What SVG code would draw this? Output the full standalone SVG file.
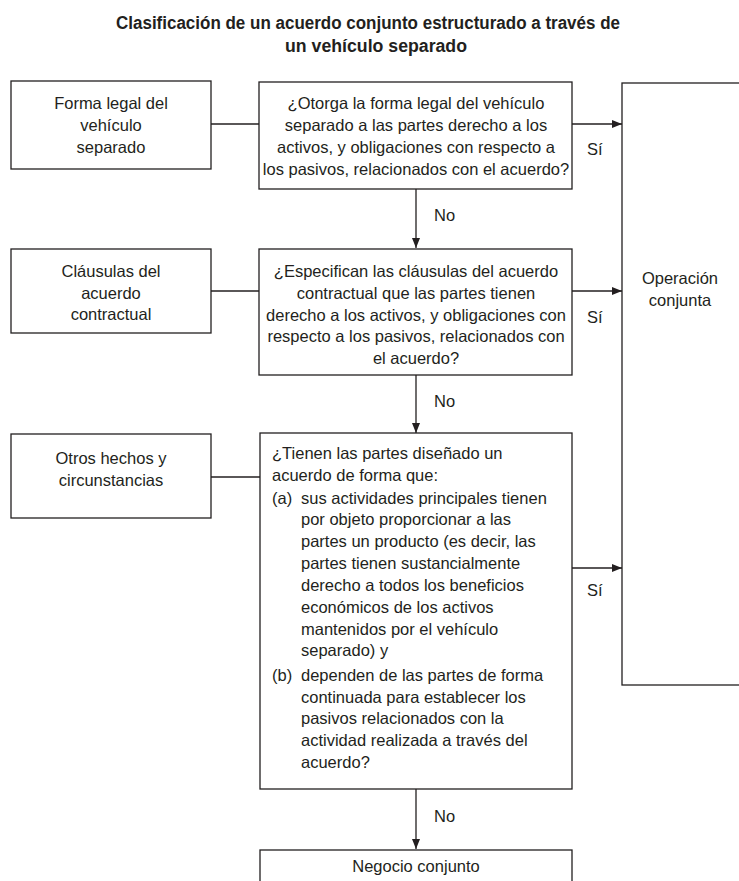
<svg xmlns="http://www.w3.org/2000/svg" width="739" height="881" viewBox="0 0 739 881">
<style>
text{font-family:"Liberation Sans",Arial,sans-serif;font-size:16.5px;fill:#231f20}
.t{font-weight:bold;font-size:18px}
.c{text-anchor:middle}
rect{fill:#fff;stroke:#231f20;stroke-width:1.3}
.ln{stroke:#231f20;stroke-width:1.3;fill:none}
</style>
<defs>
<marker id="ah" viewBox="0 0 10 8" refX="10" refY="4" markerWidth="10" markerHeight="8" markerUnits="userSpaceOnUse" orient="auto">
<path d="M0,0 L10,4 L0,8 Z" fill="#231f20"/>
</marker>
</defs>
<rect x="0" y="0" width="739" height="881" style="stroke:none"/>
<g id="title">
<text class="t" x="116" y="29" textLength="504" lengthAdjust="spacingAndGlyphs">Clasificación de un acuerdo conjunto estructurado a través de</text>
<text class="t" x="285" y="52" textLength="182" lengthAdjust="spacingAndGlyphs">un vehículo separado</text>
</g>
<g id="connectors">
<line class="ln" x1="211" y1="124" x2="259" y2="124"/>
<line class="ln" x1="211" y1="291" x2="259" y2="291"/>
<line class="ln" x1="211" y1="477" x2="260" y2="477"/>
<line class="ln" x1="572" y1="124" x2="622" y2="124" marker-end="url(#ah)"/>
<line class="ln" x1="572" y1="291" x2="622" y2="291" marker-end="url(#ah)"/>
<line class="ln" x1="572" y1="568" x2="622" y2="568" marker-end="url(#ah)"/>
<line class="ln" x1="416" y1="189" x2="416" y2="248" marker-end="url(#ah)"/>
<line class="ln" x1="416" y1="375" x2="416" y2="433" marker-end="url(#ah)"/>
<line class="ln" x1="416" y1="789" x2="416" y2="849" marker-end="url(#ah)"/>
<text x="587" y="155">Sí</text>
<text x="587" y="323">Sí</text>
<text x="587" y="596">Sí</text>
<text x="434" y="221">No</text>
<text x="434" y="407">No</text>
<text x="434" y="822">No</text>
</g>
<g id="n-forma">
<rect x="11" y="81" width="200" height="88"/>
<text class="c" x="111" y="109">Forma legal del</text>
<text class="c" x="111" y="131">vehículo</text>
<text class="c" x="111" y="153">separado</text>
</g>
<g id="n-q1">
<rect x="259" y="82" width="313" height="107"/>
<text class="c" x="416" y="109">¿Otorga la forma legal del vehículo</text>
<text class="c" x="416" y="131">separado a las partes derecho a los</text>
<text class="c" x="416" y="153">activos, y obligaciones con respecto a</text>
<text class="c" x="416" y="175">los pasivos, relacionados con el acuerdo?</text>
</g>
<g id="n-clausulas">
<rect x="11" y="249" width="200" height="84"/>
<text class="c" x="111" y="277">Cláusulas del</text>
<text class="c" x="111" y="299">acuerdo</text>
<text class="c" x="111" y="320">contractual</text>
</g>
<g id="n-q2">
<rect x="259" y="249" width="313" height="126"/>
<text class="c" x="416" y="277">¿Especifican las cláusulas del acuerdo</text>
<text class="c" x="416" y="299">contractual que las partes tienen</text>
<text class="c" x="416" y="321">derecho a los activos, y obligaciones con</text>
<text class="c" x="416" y="342">respecto a los pasivos, relacionados con</text>
<text class="c" x="416" y="364">el acuerdo?</text>
</g>
<g id="n-otros">
<rect x="11" y="434" width="200" height="84"/>
<text class="c" x="111" y="464">Otros hechos y</text>
<text class="c" x="111" y="486">circunstancias</text>
</g>
<g id="n-q3">
<rect x="260" y="433" width="312" height="356"/>
<text x="272" y="459">¿Tienen las partes diseñado un</text>
<text x="272" y="481">acuerdo de forma que:</text>
<text x="272" y="504">(a)</text>
<text x="301" y="504">sus actividades principales tienen</text>
<text x="301" y="525">por objeto proporcionar a las</text>
<text x="301" y="547">partes un producto (es decir, las</text>
<text x="301" y="569">partes tienen sustancialmente</text>
<text x="301" y="591">derecho a todos los beneficios</text>
<text x="301" y="613">económicos de los activos</text>
<text x="301" y="635">mantenidos por el vehículo</text>
<text x="301" y="656">separado) y</text>
<text x="272" y="681">(b)</text>
<text x="301" y="681">dependen de las partes de forma</text>
<text x="301" y="703">continuada para establecer los</text>
<text x="301" y="724">pasivos relacionados con la</text>
<text x="301" y="746">actividad realizada a través del</text>
<text x="301" y="768">acuerdo?</text>
</g>
<g id="n-operacion">
<rect x="622" y="83" width="140" height="602"/>
<text class="c" x="680" y="284">Operación</text>
<text class="c" x="680" y="306">conjunta</text>
</g>
<g id="n-negocio">
<rect x="260" y="850" width="312" height="50"/>
<text class="c" x="416" y="872">Negocio conjunto</text>
</g>
</svg>
